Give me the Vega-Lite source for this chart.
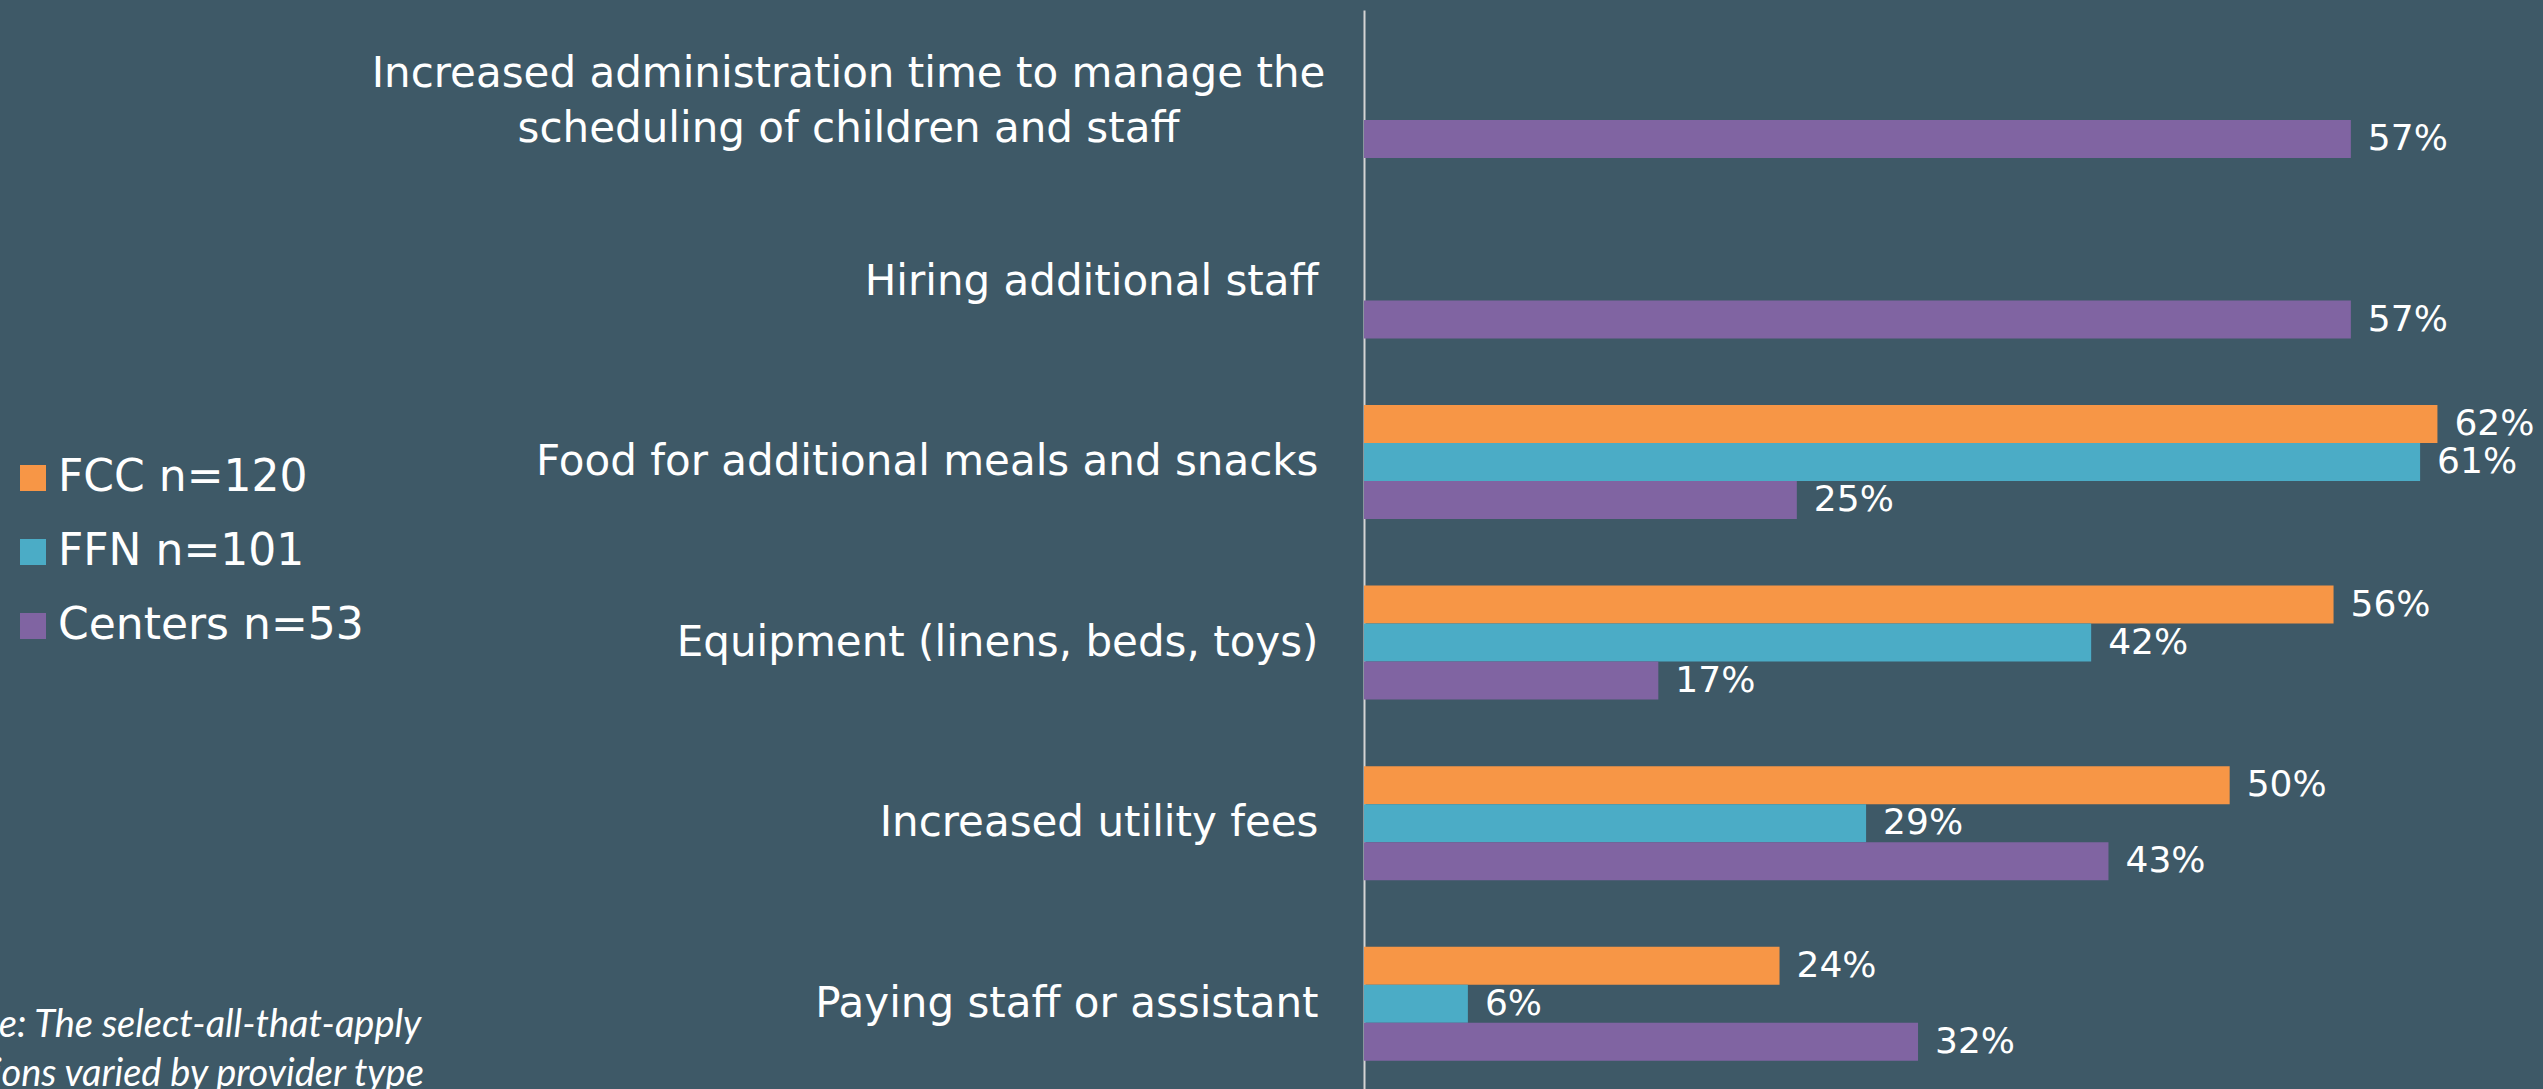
{
  "$schema": "https://vega.github.io/schema/vega-lite/v6.json",
  "width": 1160,
  "height": 1079,
  "autosize": {"type": "none"},
  "padding": {"left": 1364, "top": 10, "right": 19, "bottom": 0},
  "background": "#3E5967",
  "config": {"view": {"stroke": null}, "font": "DejaVu Sans"},
  "title": {
    "text": ["Note: The select-all-that-apply", "options varied by provider type"],
    "orient": "bottom",
    "anchor": "start",
    "frame": "group",
    "font": "Lato",
    "fontStyle": "italic",
    "fontWeight": "normal",
    "fontSize": 38,
    "color": "#FFFFFF",
    "lineHeight": 49,
    "baseline": "alphabetic",
    "offset": 0,
    "dx": -1424,
    "dy": -52
  },
  "data": {
    "values": [
      {"category": "Increased administration time to manage the scheduling of children and staff", "series": "Centers n=53", "value": 0.57},
      {"category": "Hiring additional staff", "series": "Centers n=53", "value": 0.57},
      {"category": "Food for additional meals and snacks", "series": "FCC n=120", "value": 0.62},
      {"category": "Food for additional meals and snacks", "series": "FFN n=101", "value": 0.61},
      {"category": "Food for additional meals and snacks", "series": "Centers n=53", "value": 0.25},
      {"category": "Equipment (linens, beds, toys)", "series": "FCC n=120", "value": 0.56},
      {"category": "Equipment (linens, beds, toys)", "series": "FFN n=101", "value": 0.42},
      {"category": "Equipment (linens, beds, toys)", "series": "Centers n=53", "value": 0.17},
      {"category": "Increased utility fees", "series": "FCC n=120", "value": 0.50},
      {"category": "Increased utility fees", "series": "FFN n=101", "value": 0.29},
      {"category": "Increased utility fees", "series": "Centers n=53", "value": 0.43},
      {"category": "Paying staff or assistant", "series": "FCC n=120", "value": 0.24},
      {"category": "Paying staff or assistant", "series": "FFN n=101", "value": 0.06},
      {"category": "Paying staff or assistant", "series": "Centers n=53", "value": 0.32}
    ]
  },
  "encoding": {
    "y": {
      "field": "category",
      "type": "nominal",
      "title": null,
      "sort": [
        "Increased administration time to manage the scheduling of children and staff",
        "Hiring additional staff",
        "Food for additional meals and snacks",
        "Equipment (linens, beds, toys)",
        "Increased utility fees",
        "Paying staff or assistant"
      ],
      "scale": {"paddingInner": 0.3686, "paddingOuter": 0.1725, "align": 0.5457},
      "axis": {
        "domain": true,
        "domainColor": "#D4D4D4",
        "domainWidth": 2,
        "ticks": false,
        "grid": false,
        "labelFont": "DejaVu Sans",
        "labelFontSize": 42,
        "labelColor": "#FFFFFF",
        "labelLimit": 0,
        "labelLineHeight": 55,
        "labelBaseline": "middle",
        "labelAlign": {"condition": {"test": "indexof(datum.value, 'administration') >= 0", "value": "center"}, "value": "right"},
        "labelPadding": {"condition": {"test": "indexof(datum.value, 'administration') >= 0", "value": 516}, "value": 46},
        "labelOffset": {"condition": {"test": "indexof(datum.value, 'administration') >= 0", "value": -27}, "value": 0},
        "labelExpr": "indexof(datum.value, 'administration') >= 0 ? ['Increased administration time to manage the', 'scheduling of children and staff'] : datum.value"
      }
    },
    "yOffset": {
      "field": "series",
      "type": "nominal",
      "sort": ["FCC n=120", "FFN n=101", "Centers n=53"],
      "scale": {"domain": ["FCC n=120", "FFN n=101", "Centers n=53"], "paddingInner": 0, "paddingOuter": 0}
    },
    "x": {
      "field": "value",
      "type": "quantitative",
      "scale": {"domain": [0, 0.67], "nice": false, "zero": true},
      "axis": null
    }
  },
  "layer": [
    {
      "mark": {"type": "bar"},
      "encoding": {
        "color": {
          "field": "series",
          "type": "nominal",
          "scale": {"domain": ["FCC n=120", "FFN n=101", "Centers n=53"], "range": ["#F79646", "#4BACC6", "#8064A2"]},
          "legend": {
            "title": null,
            "orient": "none",
            "legendX": -1353,
            "legendY": 446,
            "padding": 0,
            "symbolType": "square",
            "symbolSize": 676,
            "symbolStrokeWidth": 0,
            "symbolOpacity": 1,
            "labelFont": "DejaVu Sans",
            "labelFontSize": 44,
            "labelColor": "#FFFFFF",
            "labelOffset": 3,
            "labelLimit": 0,
            "rowPadding": 30
          }
        }
      }
    },
    {
      "mark": {"type": "text", "align": "left", "baseline": "middle", "dx": 17, "fontSize": 36, "font": "DejaVu Sans", "color": "#FFFFFF"},
      "encoding": {
        "text": {"field": "value", "type": "quantitative", "format": ".0%"}
      }
    }
  ]
}
